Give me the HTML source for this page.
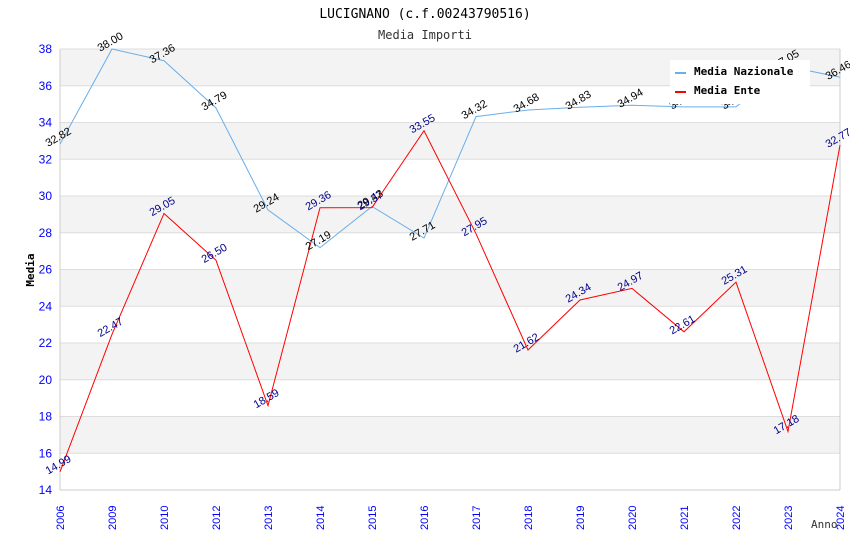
<!DOCTYPE html>
<html><head><meta charset="utf-8"><style>
body{margin:0;background:#fff;}
svg{display:block;font-family:"DejaVu Sans Mono","Liberation Mono",monospace;}
.sans{font-family:"Liberation Sans",Arial,sans-serif;}
</style></head><body>
<svg id="chart" width="850" height="550">
<text x="425" y="18" text-anchor="middle" font-size="13" fill="#000">LUCIGNANO (c.f.00243790516)</text>
<text x="425" y="39" text-anchor="middle" font-size="12" fill="#333">Media Importi</text>
<g id="bands"></g><g id="grid"></g><g id="axes"></g><g id="series"></g><g id="labels"></g>
<text x="34" y="270" transform="rotate(-90 34 270)" text-anchor="middle" font-size="11" font-weight="bold">Media</text>
<text x="811" y="528" font-size="11" fill="#333">Anno</text>
<g>
<rect x="670" y="60" width="140" height="44" fill="#fff"/>
<g><line x1="675" y1="73" x2="686" y2="73" stroke="#6aaeea" stroke-width="2"/><text x="694" y="75" font-size="11" font-weight="bold">Media Nazionale</text></g>
<g><line x1="675" y1="92" x2="686" y2="92" stroke="red" stroke-width="2"/><text x="694" y="94" font-size="11" font-weight="bold">Media Ente</text></g>
</g>
</svg>
<script>
const categories=["2006","2009","2010","2012","2013","2014","2015","2016","2017","2018","2019","2020","2021","2022","2023","2024"];
const nazionale=[32.82,38.00,37.36,34.79,29.24,27.19,29.43,27.71,34.32,34.68,34.83,34.94,34.85,34.85,37.05,36.46];
const ente=[14.99,22.47,29.05,26.50,18.59,29.36,29.37,33.55,27.95,21.62,24.34,24.97,22.61,25.31,17.18,32.77];
const yTicks=[14,16,18,20,22,24,26,28,30,32,34,36,38];
const X0=60,X1=840,Y0=490,Y1=49,YMIN=14,YMAX=38;
const xs=i=>X0+i*(X1-X0)/(categories.length-1);
const ys=v=>Y0-(v-YMIN)/(YMAX-YMIN)*(Y0-Y1);
const NS="http://www.w3.org/2000/svg";
function mk(tag,attrs,parent,txt){const e=document.createElementNS(NS,tag);for(const k in attrs)e.setAttribute(k,attrs[k]);if(txt!=null)e.textContent=txt;document.getElementById(parent).appendChild(e);return e;}
for(let i=0;i<yTicks.length-1;i++){
 if(i%2===1){const r=mk('rect',{x:X0,y:ys(yTicks[i+1]),width:X1-X0,height:ys(yTicks[i])-ys(yTicks[i+1]),fill:'#f3f3f3'},'bands');
 
 }
}
yTicks.forEach(t=>{
 const l=mk('line',{x1:X0,x2:X1,y1:ys(t),y2:ys(t),stroke:'#ddd'},'grid');
 
 
 const tx=mk('text',{x:X0-8,y:ys(t)+4,'text-anchor':'end','font-size':12,fill:'#00f',class:'sans'},'axes',t);
 
 
});
mk('line',{x1:X0,x2:X0,y1:Y1,y2:Y0,stroke:'#ccc'},'axes');
mk('line',{x1:X1,x2:X1,y1:Y1,y2:Y0,stroke:'#ccc'},'axes');
mk('line',{x1:X0,x2:X1,y1:Y0,y2:Y0,stroke:'#ccc'},'axes');
categories.forEach((c,i)=>{
 const x=xs(i);
 const t=mk('text',{x:x+4,y:530,transform:`rotate(-90 ${x+4} 530)`,'font-size':11,fill:'#00f',class:'sans'},'axes',c);
 
 
});
function series(vals,color,name,lc){
 const p=mk('polyline',{points:vals.map((v,i)=>xs(i)+','+ys(v)).join(' '),fill:'none',stroke:color,'stroke-width':1},'series');
 
 
 vals.forEach((v,i)=>{
  const x=xs(i),y=ys(v)-4;
  const t=mk('text',{x:x,y:y,transform:`rotate(-30 ${x} ${y})`,'font-size':11,fill:lc,'text-anchor':'middle',class:'sans'},'labels',v.toFixed(2));
  
  
 });
}
series(nazionale,'#6aaeea','nazionale','#000');
series(ente,'red','ente','#00008b');
</script>
</body></html>
